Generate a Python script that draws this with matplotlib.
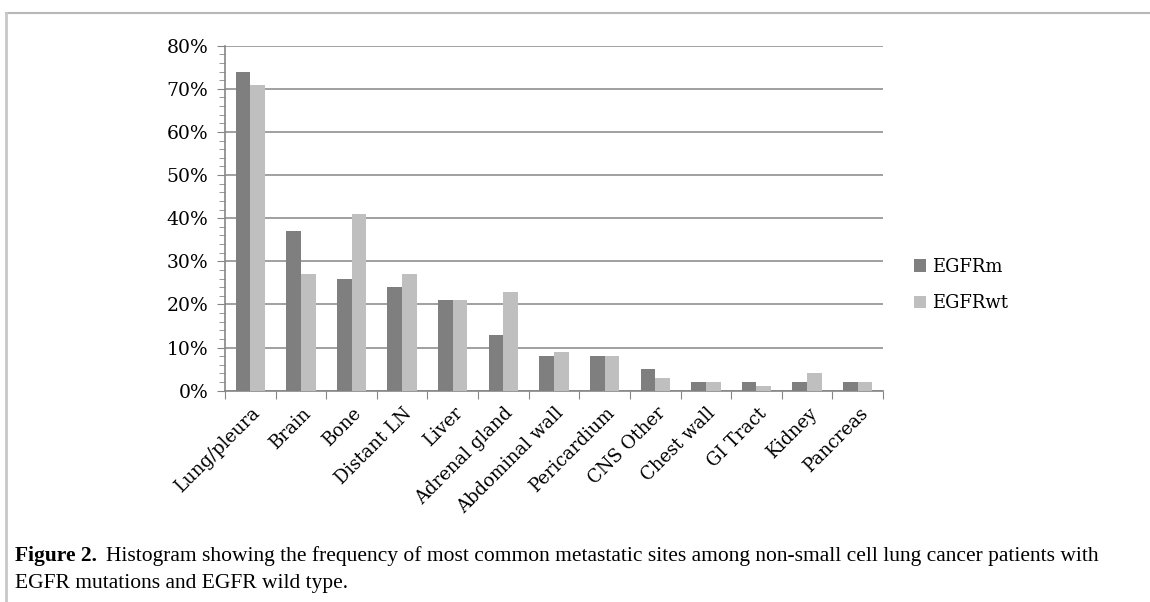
import numpy as np
import matplotlib
matplotlib.use("Agg")
from matplotlib import pyplot as plt
from matplotlib.ticker import MultipleLocator, FuncFormatter

sites = ['Lung/pleura', 'Brain', 'Bone', 'Distant LN', 'Liver', 'Adrenal gland',
         'Abdominal wall', 'Pericardium', 'CNS Other', 'Chest wall', 'GI Tract',
         'Kidney', 'Pancreas']
egfr_m = [74, 37, 26, 24, 21, 13, 8, 8, 5, 2, 2, 2, 2]
egfr_wt = [71, 27, 41, 27, 21, 23, 9, 8, 3, 2, 1, 4, 2]

dark = '#7f7f7f'
light = '#bfbfbf'
axis_grey = '#868686'

fig = plt.figure(figsize=(11.5, 6.02), dpi=100)

# thin grey frame along the top and left edge of the figure panel
fig.add_artist(plt.Line2D([0.005, 1.0], [1 - 12.5 / 602] * 2, color='#b8b8b8', lw=1.5,
                          transform=fig.transFigure))
fig.add_artist(plt.Line2D([5.5 / 1150] * 2, [1 - 12.5 / 602, 0.0], color='#c8c8c8', lw=2,
                          transform=fig.transFigure))

ax = fig.add_axes([225 / 1150, 1 - 390.7 / 602, 658 / 1150, 345 / 602])

x = np.arange(len(sites)) + 0.5
w = 0.29
ax.bar(x - w / 2, egfr_m, w, color=dark, label='EGFRm', zorder=3)
ax.bar(x + w / 2, egfr_wt, w, color=light, label='EGFRwt', zorder=3)

ax.set_xlim(0, len(sites))
ax.set_ylim(0, 80)
ax.yaxis.set_major_locator(MultipleLocator(10))
ax.yaxis.set_minor_locator(MultipleLocator(2))
ax.yaxis.set_major_formatter(FuncFormatter(lambda v, p: f'{v:.0f}%'))
ax.grid(axis='y', which='major', color=axis_grey, lw=1.1, zorder=1)

ax.set_xticks(np.arange(len(sites) + 1))
ax.set_xticklabels([])
for xi, name in zip(x, sites):
    ax.text(xi + 0.14, -4.6, name, rotation=45, rotation_mode='anchor',
            ha='right', va='center', fontsize=13, family='DejaVu Serif')

for s in ['top', 'right']:
    ax.spines[s].set_visible(False)
for s in ['left', 'bottom']:
    ax.spines[s].set_color(axis_grey)
    ax.spines[s].set_linewidth(1.2)
ax.tick_params(axis='y', which='major', length=6, color=axis_grey, labelsize=13.5, pad=6)
ax.tick_params(axis='y', which='minor', length=4, color=axis_grey)
ax.tick_params(axis='x', length=6, color=axis_grey)
for lbl in ax.get_yticklabels():
    lbl.set_family('DejaVu Serif')

ax.legend(loc='center left', bbox_to_anchor=(1.022, 0.306), frameon=False,
          prop={'family': 'DejaVu Serif', 'size': 13}, handlelength=0.7,
          handleheight=0.7, handletextpad=0.3, labelspacing=1.0)

cap_size = 15.5
head = fig.text(15 / 1150, 1 - 561 / 602, 'Figure 2.', fontsize=cap_size, weight='bold',
                family='Liberation Serif', va='baseline')
fig.canvas.draw()
head_end = head.get_window_extent().x1
fig.text((head_end + 9) / 1150, 1 - 561 / 602,
         'Histogram showing the frequency of most common metastatic sites among '
         'non-small cell lung cancer patients with',
         fontsize=cap_size, family='Liberation Serif', va='baseline')
fig.text(15 / 1150, 1 - 588 / 602, 'EGFR mutations and EGFR wild type.',
         fontsize=cap_size, family='Liberation Serif', va='baseline')

fig.savefig('out.png', dpi=100)
